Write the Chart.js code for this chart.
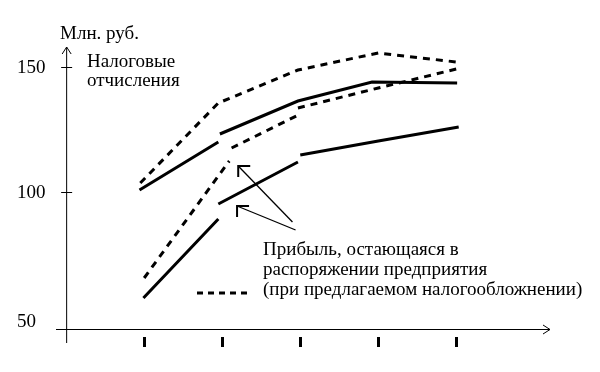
<!DOCTYPE html>
<html>
<head>
<meta charset="utf-8">
<script src="https://cdn.jsdelivr.net/npm/chart.js@4.4.1/dist/chart.umd.min.js"></script>
<style>
  html, body { margin: 0; padding: 0; background: #fff; }
  #chart { display: block; }
</style>
</head>
<body>
<canvas id="chart" width="600" height="372"></canvas>
<script>
// x positions of the five (unlabelled) periods
const periods = [1, 2, 3, 4, 5];
// y tick labels
const yTicks = [50, 100, 150];
const yTickMarks = [100, 150];

// series, hand drawn in pieces; a null y breaks the line
const taxNowX = [0.94, 1.95, 1.96, 1.97, 2.97, 3.92, 5.01];
const taxNowY = [100.8, 120.0, null, 123.2, 136.4, 144.0, 143.6];

const taxNewX = [0.95, 1.95, 2.97, 4.0, 5.0];
const taxNewY = [103.6, 135.6, 148.8, 155.6, 152.0];

const profitNowX = [0.99, 1.95, 1.95, 1.95, 2.97, 2.98, 3.0, 4.0, 5.03];
const profitNowY = [57.6, 89.2, null, 95.2, 112.0, null, 114.8, 120.4, 126.0];

const profitNewX = [1.0, 2.09, 2.1, 2.12, 2.95, 2.96, 2.97, 4.0, 5.0];
const profitNewY = [65.6, 112.4, null, 117.6, 130.4, null, 133.6, 141.6, 149.2];

const yUnit = "Млн. руб.";
const taxLabel = ["Налоговые", "отчисления"];
const profitLabel = ["Прибыль, остающаяся в", "распоряжении предприятия", "(при предлагаемом налогообложнении)"];

// pointer arrows (data space): from -> to
const pointers = [
  { from: [2.9, 88.0], to: [2.205, 110.4] },
  { from: [2.94, 84.8], to: [2.19, 94.4] },
];

const FONT = "19px 'Liberation Serif', 'Times New Roman', serif";

function pts(xs, ys){
  return xs.map((x, i) => ({ x: x, y: ys[i] }));
}

function line(xs, ys, dashed){
  return {
    data: pts(xs, ys),
    borderColor: "#000",
    borderWidth: 3,
    borderDash: dashed ? [7, 6] : [],
    pointRadius: 0,
    tension: 0,
    spanGaps: false,
    fill: false,
  };
}

const drawing = {
  id: "drawing",
  afterDraw(chart){
    const ctx = chart.ctx;
    const xs = chart.scales.x, ys = chart.scales.y;
    const a = chart.chartArea;
    const x0 = xs.getPixelForValue(0);
    ctx.save();
    ctx.strokeStyle = "#000";
    ctx.fillStyle = "#000";
    ctx.lineWidth = 1;

    // x axis with open arrow
    ctx.beginPath();
    ctx.moveTo(a.left, a.bottom + 0.5);
    ctx.lineTo(a.right, a.bottom + 0.5);
    ctx.moveTo(a.right - 7, a.bottom - 4);
    ctx.lineTo(a.right, a.bottom + 0.5);
    ctx.lineTo(a.right - 7, a.bottom + 5);
    // y axis with open arrow
    ctx.moveTo(x0 + 0.5, a.top);
    ctx.lineTo(x0 + 0.5, a.bottom + 14);
    ctx.moveTo(x0 - 4, a.top + 7);
    ctx.lineTo(x0 + 0.5, a.top);
    ctx.lineTo(x0 + 5, a.top + 7);
    // y tick marks
    yTickMarks.forEach(v => {
      const p = Math.round(ys.getPixelForValue(v)) + 0.5;
      ctx.moveTo(x0 - 5, p);
      ctx.lineTo(x0 + 6, p);
    });
    ctx.stroke();

    // x tick marks (thick bars under the axis)
    periods.forEach(v => {
      const p = xs.getPixelForValue(v);
      ctx.fillRect(Math.round(p - 1.5), a.bottom + 8, 3, 10);
    });

    // y tick labels
    ctx.font = FONT;
    ctx.textAlign = "left";
    ctx.textBaseline = "middle";
    yTicks.forEach(v => {
      const dy = v === 50 ? 5 : 1;
      ctx.fillText(String(v), 17, ys.getPixelForValue(v) + dy);
    });

    // texts
    ctx.textBaseline = "alphabetic";
    ctx.fillText(yUnit, 60, 39);
    ctx.fillText(taxLabel[0], 87, 67);
    ctx.fillText(taxLabel[1], 87, 86);
    profitLabel.forEach((t, i) => ctx.fillText(t, 263, 255 + i * 20));

    // legend dash sample
    ctx.lineWidth = 3;
    ctx.setLineDash([6, 5]);
    ctx.beginPath();
    ctx.moveTo(197, 293);
    ctx.lineTo(252, 293);
    ctx.stroke();
    ctx.setLineDash([]);

    // pointer arrows
    pointers.forEach(pt => {
      const fx = xs.getPixelForValue(pt.from[0]), fy = ys.getPixelForValue(pt.from[1]);
      const tx = xs.getPixelForValue(pt.to[0]), ty = ys.getPixelForValue(pt.to[1]);
      ctx.lineWidth = 1.3;
      ctx.beginPath();
      ctx.moveTo(fx, fy);
      ctx.lineTo(tx, ty);
      ctx.stroke();
      ctx.lineWidth = 2;
      ctx.beginPath();
      ctx.moveTo(tx + 12, ty);
      ctx.lineTo(tx, ty);
      ctx.lineTo(tx, ty + 11);
      ctx.stroke();
    });
    ctx.restore();
  }
};

new Chart(document.getElementById("chart"), {
  type: "line",
  data: {
    datasets: [
      line(taxNowX, taxNowY, false),
      line(taxNewX, taxNewY, true),
      line(profitNowX, profitNowY, false),
      line(profitNewX, profitNewY, true),
    ]
  },
  options: {
    responsive: false,
    animation: false,
    devicePixelRatio: 1,
    layout: { padding: { left: 56, right: 50, top: 47, bottom: 43 } },
    plugins: { legend: { display: false }, tooltip: { enabled: false } },
    scales: {
      x: { type: "linear", min: -0.13, max: 6.2, display: false },
      y: { type: "linear", min: 45.2, max: 158, display: false },
    }
  },
  plugins: [drawing]
});
</script>
</body>
</html>
